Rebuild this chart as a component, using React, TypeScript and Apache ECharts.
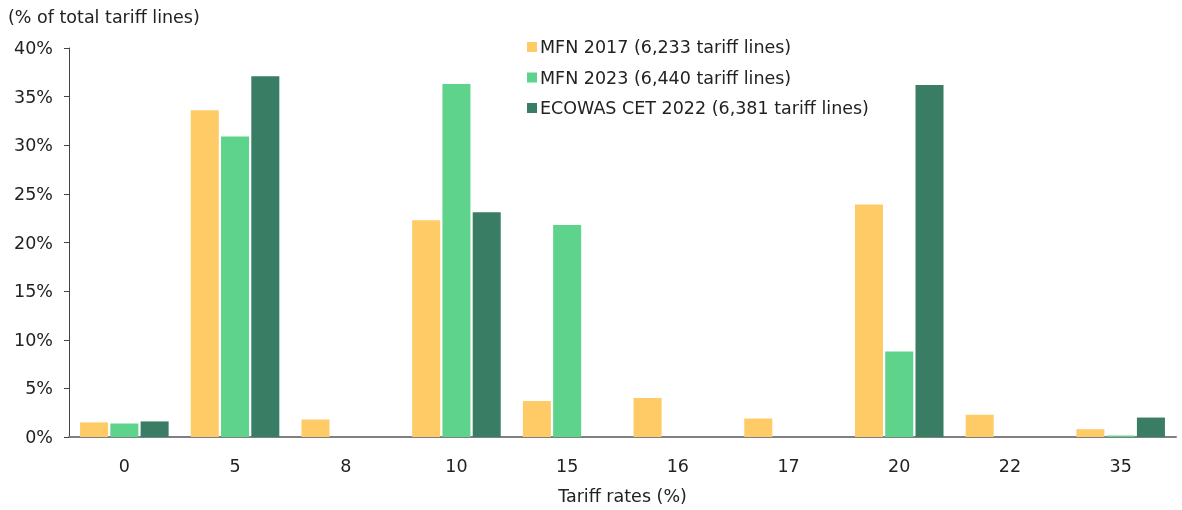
import React, { useEffect, useRef } from "react";
import * as echarts from "echarts";

const categories = ["0", "5", "8", "10", "15", "16", "17", "20", "22", "35"];
const mfn2017 = [1.5, 33.6, 1.8, 22.3, 3.7, 4.0, 1.9, 23.9, 2.3, 0.8];
const mfn2023 = [1.4, 30.9, 0, 36.3, 21.8, 0, 0, 8.8, 0, 0.15];
const ecowas2022 = [1.6, 37.1, 0, 23.1, 0, 0, 0, 36.2, 0, 2.0];
const seriesNames = [
  "MFN 2017 (6,233 tariff lines)",
  "MFN 2023 (6,440 tariff lines)",
  "ECOWAS CET 2022 (6,381 tariff lines)",
];
const colors = ["#FECB67", "#5DD38C", "#397D64"];

const FONT = "DejaVu Sans";
const FS = 17.5;

export default function App() {
  const ref = useRef<HTMLDivElement>(null);
  useEffect(() => {
    if (!ref.current) return;
    const chart = echarts.init(ref.current, undefined, { renderer: "svg" });
    const mk = (name: string, data: number[], color: string) => ({
      name,
      type: "bar",
      data,
      itemStyle: { color },
      barGap: "8%",
      barCategoryGap: "20%",
    });
    chart.setOption({
      animation: false,
      color: colors,
      textStyle: { fontFamily: FONT },
      title: {
        text: "(% of total tariff lines)",
        left: 3,
        top: 3,
        textStyle: { fontFamily: FONT, fontSize: FS, fontWeight: "normal", color: "#222" },
      },
      legend: {
        orient: "vertical",
        left: 522,
        top: 33,
        itemWidth: 10,
        itemHeight: 10,
        itemGap: 12.5,
        icon: "rect",
        textStyle: { fontFamily: FONT, fontSize: FS, color: "#222", padding: [0, 0, 0, -2] },
        data: seriesNames,
      },
      grid: { left: 69, right: 6, top: 48, bottom: 70, containLabel: false },
      xAxis: {
        type: "category",
        data: categories,
        name: "Tariff rates (%)",
        nameLocation: "middle",
        nameGap: 50,
        nameTextStyle: { fontFamily: FONT, fontSize: FS, color: "#222" },
        axisLine: { lineStyle: { color: "#808080", width: 2 } },
        axisTick: { show: false },
        axisLabel: { fontFamily: FONT, fontSize: FS, color: "#222", margin: 20 },
      },
      yAxis: {
        type: "value",
        min: 0,
        max: 40,
        interval: 5,
        axisLine: { show: true, lineStyle: { color: "#444", width: 1 } },
        axisTick: { show: true, length: 5, lineStyle: { color: "#444" } },
        splitLine: { show: false },
        axisLabel: { fontFamily: FONT, fontSize: FS, color: "#222", formatter: "{value}%", margin: 16 },
      },
      series: [
        mk(seriesNames[0], mfn2017, colors[0]),
        mk(seriesNames[1], mfn2023, colors[1]),
        mk(seriesNames[2], ecowas2022, colors[2]),
      ],
    });
    return () => chart.dispose();
  }, []);
  return (
    <div
      ref={ref}
      style={{ position: "fixed", left: 0, top: 0, width: 1182, height: 510 }}
    />
  );
}
